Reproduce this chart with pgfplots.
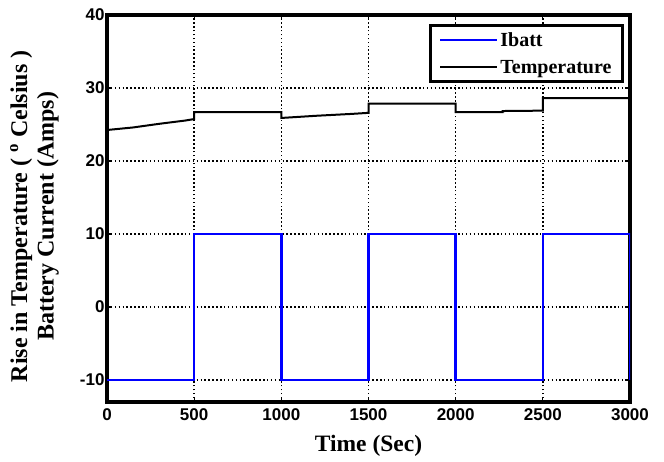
\documentclass[border=0pt]{standalone}
\usepackage{fontspec}
\setmainfont{Liberation Serif}
\newfontfamily\arialfont{Liberation Sans}
\usepackage{pgfplots}
\pgfplotsset{compat=1.18}
\begin{document}
\begin{tikzpicture}
\begin{axis}[
  scale only axis,
  width=523pt, height=387pt,
  xmin=0, xmax=3000, ymin=-13, ymax=40,
  xtick={0,500,1000,1500,2000,2500,3000},
  ytick={-10,0,10,20,30,40},
  /pgf/number format/assume math mode=true,
  /pgf/number format/1000 sep={},
  tick label style={font=\arialfont\bfseries\fontsize{17}{19}\selectfont},
  xticklabel style={yshift=-3pt},
  yticklabel style={xshift=1pt},
  tick align=inside,
  major tick length=5pt,
  tick style={black, line width=1.2pt},
  axis line style={line width=3.5pt},
  grid=major,
  grid style={black, line width=1.5pt, dash pattern=on 1.5pt off 2.4pt},
  xlabel={Time (Sec)},
  ylabel={Rise in Temperature ( \textsuperscript{o} Celsius )\\Battery Current (Amps)},
  xlabel style={font=\bfseries\fontsize{23.5}{26}\selectfont, at={(axis description cs:0.5,0)}, anchor=base, yshift=-49pt, inner sep=0pt},
  ylabel style={font=\bfseries\fontsize{24}{26.5}\selectfont, align=center, at={(axis description cs:-0.0918,0.48)}, anchor=south, inner sep=0pt},
  legend style={at={(0.9885,0.976)}, anchor=north east, draw=black, line width=3pt,
    font=\bfseries\fontsize{20}{22}\selectfont, row sep=8pt, inner xsep=9pt, inner ysep=5pt,
    /tikz/every even column/.append style={column sep=3pt}},
  legend cell align=left,
  legend image code/.code={\draw[#1, line width=2pt] (0pt,0pt) -- (57pt,0pt);},
]
\addplot[blue, line width=2.5pt] coordinates {
  (0,-10) (500,-10) (500,10) (1000,10) (1000,-10) (1500,-10) (1500,10)
  (2000,10) (2000,-10) (2500,-10) (2500,10) (3000,10) (3000,-10)
};
\addlegendentry{Ibatt}
\addplot[black, line width=2pt] coordinates {
  (0,24.25) (150,24.6) (300,25.1) (450,25.55) (500,25.75)
  (500,26.7) (1000,26.7)
  (1000,25.9) (1200,26.2) (1400,26.45) (1500,26.6)
  (1500,27.85) (2000,27.85)
  (2000,26.7) (2270,26.7) (2270,26.85) (2500,26.9)
  (2500,28.6) (3000,28.6)
};
\addlegendentry{Temperature}
\end{axis}
\pgfresetboundingbox
\path[use as bounding box] (current axis.south west) ++(-107pt,-59pt) rectangle ++(664pt,461pt);
\end{tikzpicture}
\end{document}
